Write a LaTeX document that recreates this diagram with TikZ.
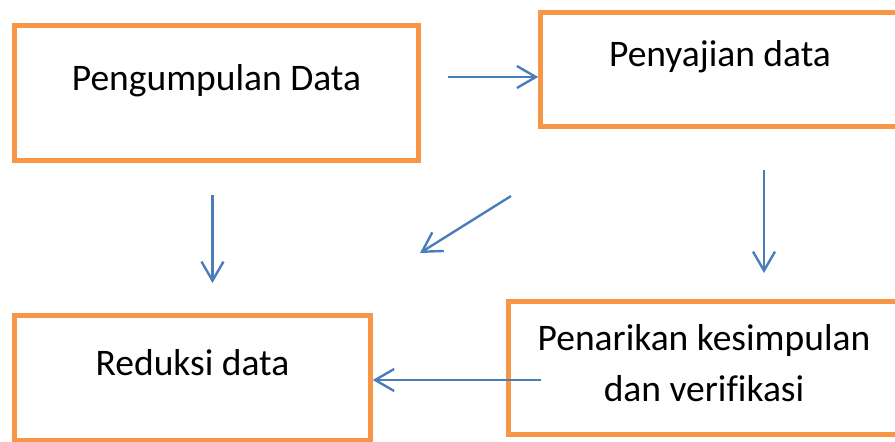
\documentclass[tikz,border=0pt]{standalone}
\usepackage{fontspec}
\setmainfont{Carlito}[Ligatures=NoCommon]
\usetikzlibrary{arrows.meta}
\definecolor{boxorange}{HTML}{F79646}
\definecolor{lineblue}{HTML}{4A7EBB}
\tikzset{
  box/.style={draw=boxorange,line width=4.5pt,inner sep=0pt,font=\fontsize{37.5}{51}\selectfont},
  arr/.style={-{Straight Barb[length=19pt,width=22pt]},draw=lineblue,line width=2.4pt},
}

\begin{document}
\begin{tikzpicture}[x=1pt,y=-1pt]
 \useasboundingbox (0,0) rectangle (895,442);
 % the four stages
 \node[box,minimum width=404pt,minimum height=135pt,text height=64.5pt,text depth=70.5pt] (pd) at (216.5,93) {Pengumpulan Data};
 \node[box,minimum width=359pt,minimum height=114pt,text height=53.5pt,text depth=60.5pt] (ps) at (720,69.5) {Penyajian data};
 \node[box,minimum width=356pt,minimum height=124.5pt,text height=59.5pt,text depth=65pt] (rd) at (192.5,377.75) {Reduksi data};
 \node[box,minimum width=391pt,minimum height=133pt,text height=48.5pt,text depth=84.5pt] (pk) at (704,368) {\begin{tabular}[t]{@{}c@{}}Penarikan kesimpulan\\dan verifikasi\end{tabular}};
 % arrows
 \coordinate (c1) at (448,77);
 \coordinate (c2a) at (212.5,195); \coordinate (c2b) at (212.5,283);
 \coordinate (c3a) at (511,196); \coordinate (c3b) at (420,253);
 \coordinate (c4a) at (764,170); \coordinate (c4b) at (764,273);
 \coordinate (c5) at (541,380);
 \draw[arr] (c1) -- (c1 -| ps.west);
 \draw[arr] (c2a) -- (c2b);
 \draw[arr] (c3a) -- (c3b);
 \draw[arr] (c4a) -- (c4b);
 \draw[arr] (c5) -- (c5 -| rd.east);
\end{tikzpicture}
\end{document}
